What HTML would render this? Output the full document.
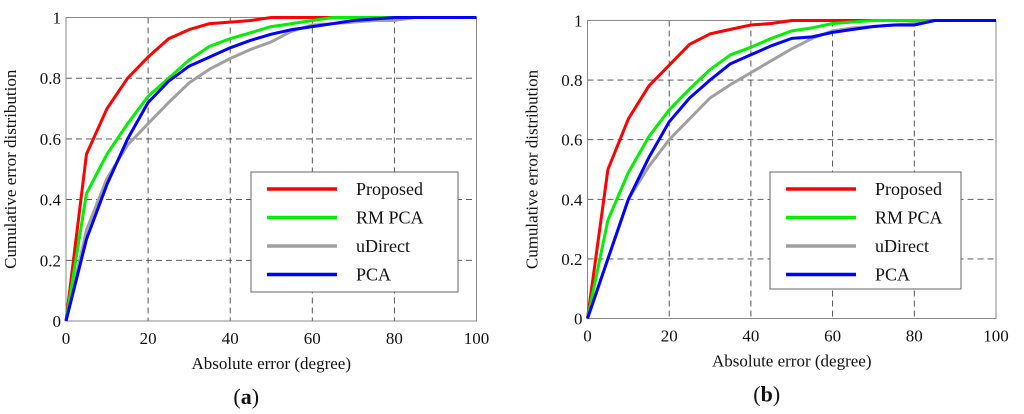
<!DOCTYPE html>
<html><head><meta charset="utf-8"><style>
html,body{margin:0;padding:0;background:#fff;width:1024px;height:414px;overflow:hidden}
svg{font-family:"Liberation Serif",serif}
</style></head><body>
<svg id="fig" width="1024" height="414"></svg>
<script>
const xVals=[0,5,10,15,20,25,30,35,40,45,50,55,60,65,70,75,80,85,90,95,100];
const seriesNames=["Proposed","RM PCA","uDirect","PCA"];
const seriesColors=["#ff0000","#00ee00","#a0a0a0","#0000ff"];
const aProposed=[0,0.55,0.70,0.80,0.87,0.93,0.96,0.98,0.985,0.99,1,1,1,1,1,1,1,1,1,1,1];
const aRMPCA=[0,0.42,0.55,0.65,0.74,0.80,0.86,0.905,0.93,0.95,0.97,0.98,0.99,1,1,1,1,1,1,1,1];
const aUDirect=[0,0.30,0.47,0.58,0.65,0.72,0.785,0.83,0.865,0.895,0.92,0.955,0.975,0.98,0.985,0.99,0.99,1,1,1,1];
const aPCA=[0,0.27,0.45,0.60,0.72,0.79,0.84,0.87,0.90,0.925,0.945,0.96,0.97,0.98,0.99,0.995,1,1,1,1,1];
const bProposed=[0,0.50,0.67,0.78,0.85,0.92,0.955,0.97,0.985,0.99,1,1,1,1,1,1,1,1,1,1,1];
const bRMPCA=[0,0.33,0.49,0.61,0.70,0.77,0.835,0.885,0.91,0.94,0.965,0.975,0.99,0.995,1,1,1,1,1,1,1];
const bUDirect=[0,0.20,0.40,0.51,0.60,0.67,0.74,0.785,0.825,0.865,0.905,0.94,0.965,0.975,0.98,0.985,0.99,1,1,1,1];
const bPCA=[0,0.20,0.40,0.54,0.66,0.74,0.80,0.855,0.885,0.915,0.94,0.945,0.96,0.97,0.98,0.985,0.985,1,1,1,1];
const xTicks=[0,20,40,60,80,100];
const yTicks=[0,0.2,0.4,0.6,0.8,1];
const yTickLabels=["0","0.2","0.4","0.6","0.8","1"];
const NS="http://www.w3.org/2000/svg";
const svg=document.getElementById('fig');
function mk(tag,attrs,parent){const e=document.createElementNS(NS,tag);for(const k in attrs)e.setAttribute(k,attrs[k]);(parent||svg).appendChild(e);return e;}
function panel(id,L,R,T,B,legend,series,label){
  const g=mk('g',{});
  
  
  const sx=v=>L+(R-L)*v/100, sy=v=>B-(B-T)*v;
  xTicks.forEach((t,i)=>{
    if(i>0&&i<xTicks.length-1){const l=mk('line',{x1:sx(t),x2:sx(t),y1:T,y2:B,stroke:'#444','stroke-dasharray':'6,4','stroke-width':0.9},g);
    }
    const tx=mk('text',{x:sx(t),y:B+23,'text-anchor':'middle','font-size':17,fill:'#111'},g);tx.textContent=t;
    
  });
  yTicks.forEach((t,i)=>{
    if(i>0&&i<yTicks.length-1){const l=mk('line',{x1:L,x2:R,y1:sy(t),y2:sy(t),stroke:'#444','stroke-dasharray':'6,4','stroke-width':0.9},g);
    }
    const tx=mk('text',{x:L-5,y:sy(t)+6,'text-anchor':'end','font-size':17,fill:'#111'},g);tx.textContent=yTickLabels[i];
    
  });
  const fr=mk('rect',{x:L,y:T,width:R-L,height:B-T,fill:'none',stroke:'#888','stroke-width':1},g);
  
  [2,0,1,3].forEach(si=>{
    const d=series[si].map((v,i)=>(i?'L':'M')+sx(xVals[i]).toFixed(1)+','+sy(v).toFixed(1)).join('');
    const p=mk('path',{d:d,fill:'none',stroke:seriesColors[si],'stroke-width':3,'stroke-linejoin':'round'},g);
    
    
  });
  const lg=mk('g',{},g);
  
  mk('rect',{x:legend[0],y:legend[1],width:legend[2],height:legend[3],fill:'#fff',stroke:'#666','stroke-width':1},lg);
  seriesNames.forEach((n,i)=>{
    const yy=legend[1]+17+i*28.5;
    const e=mk('g',{},lg);
    
    mk('line',{x1:legend[0]+16,x2:legend[0]+86,y1:yy,y2:yy,stroke:seriesColors[i],'stroke-width':3.5},e);
    const t=mk('text',{x:legend[0]+105,y:yy+6,'font-size':18,fill:'#111'},e);t.textContent=n;
  });
  const xt=mk('text',{x:(L+R)/2,y:B+48,'text-anchor':'middle','font-size':17,fill:'#111'},g);xt.textContent='Absolute error (degree)';
  
  const cy=(T+B)/2, cx=L-50;
  const yt=mk('text',{x:cx,y:cy,'text-anchor':'middle','font-size':17,fill:'#111',transform:`rotate(-90 ${cx} ${cy})`},g);yt.textContent='Cumulative error distribution';
  
  const cap=mk('text',{x:(L+R)/2-25,y:B+83,'text-anchor':'middle','font-size':22,fill:'#111'},g);
  
  cap.innerHTML='(<tspan font-weight="bold">'+label+'</tspan>)';
}
panel('a',66,476.5,17.5,321,[251,172,207,120],[aProposed,aRMPCA,aUDirect,aPCA],'a');
panel('b',587.5,996,20.5,318.5,[770,172,191,117],[bProposed,bRMPCA,bUDirect,bPCA],'b');
</script>
</body></html>
